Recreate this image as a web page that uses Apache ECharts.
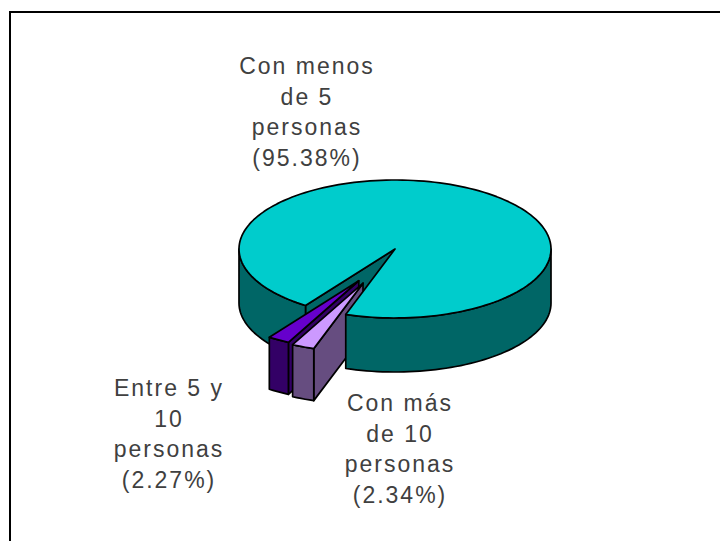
<!DOCTYPE html>
<html><head><meta charset="utf-8">
<style>html,body{margin:0;padding:0;background:#fff}#c{width:720px;height:541px}svg text{letter-spacing:2px}</style>
<script src="https://cdn.jsdelivr.net/npm/echarts@6/dist/echarts.min.js"></script>
</head><body><div id="c"></div>
<script>
const categories = ['Con menos de 5 personas', 'Con más de 10 personas', 'Entre 5 y 10 personas'];
const shares = [95.38, 2.34, 2.27];
const labelLines = [['Con menos', 'de 5', 'personas'], ['Con más', 'de 10', 'personas'], ['Entre 5 y', '10', 'personas']];
const topColors = ['#00CCCC', '#CC99FF', '#6600CC'];
const sideColors = ['#006666', '#664D80', '#330066'];
const explodeOffsets = [[0, 0], [-0.205, 0.495], [-0.232, 0.46]];
const layerOrder = [1, 3, 2];
const sliceDepths = [54, 52, 52];
const labelPos = [[307, 66], [400, 403], [169, 388]];

const cx = 395, cy = 249, rx = 156, ry = 69, startDeg = 215;
const LH = 30.7;
const line = { stroke: '#000', lineWidth: 1.7, lineJoin: 'round' };
const total = shares.reduce((a, b) => a + b, 0);

function pt(ox, oy, deg) {
  const t = deg * Math.PI / 180;
  return [ox + rx * Math.sin(t), oy - ry * Math.cos(t)];
}
function arc(ox, oy, a, b) {
  const n = Math.max(2, Math.ceil(Math.abs(b - a) / 2)), out = [];
  for (let i = 0; i <= n; i++) out.push(pt(ox, oy, a + (b - a) * i / n));
  return out;
}
function poly(points, fill, z2) {
  return { type: 'polygon', z2, shape: { points }, style: Object.assign({ fill }, line) };
}
function renderItem(params, api) {
  const i = params.dataIndex, v = api.value(0);
  let before = 0;
  for (let k = 0; k < i; k++) before += shares[k];
  const a0 = startDeg + before / total * 360, a1 = a0 + v / total * 360;
  const ox = cx + explodeOffsets[i][0] * rx, oy = cy + explodeOffsets[i][1] * ry;
  const depth = sliceDepths[i];
  const z = layerOrder[i] * 10, side = sideColors[i], kids = [];
  const apex = [ox, oy];
  const wall = (deg, zz) => {
    const p = pt(ox, oy, deg);
    kids.push(poly([apex, p, [p[0], p[1] + depth], [ox, oy + depth]], side, zz));
  };
  // rim faces: only the lower half of the ellipse (90..270 degrees, modulo a full turn) faces the viewer
  const front = (a, b, zz) => {
    for (const s of [0, 360]) {
      const lo = Math.max(a, 90 + s), hi = Math.min(b, 270 + s);
      if (hi > lo) {
        const z2 = (i === 0 && s === 360) ? 50 : zz; // the big slice's right-hand rim sits over the exploded slices
        kids.push(poly(arc(ox, oy, lo, hi).concat(arc(ox, oy + depth, hi, lo)), side, z2));
      }
    }
  };
  wall(a0, z);
  front(a0, a1, z + 1);
  kids.push(poly([apex].concat(arc(ox, oy, a0, a1)), topColors[i], i === 0 ? 51 : z + 2));
  const lines = labelLines[i].concat(['(' + v.toFixed(2) + '%)']);
  lines.forEach((t, n) => kids.push({
    type: 'text', z2: 100,
    style: { x: labelPos[i][0], y: labelPos[i][1] + n * LH, text: t, align: 'center', verticalAlign: 'middle',
      font: '23px "Liberation Sans", Arial, sans-serif', fill: '#404040' }
  }));
  return { type: 'group', children: kids };
}
const chart = echarts.init(document.getElementById('c'), null, { renderer: 'svg', width: 720, height: 541 });
chart.setOption({
  animation: false,
  backgroundColor: '#ffffff',
  graphic: [
    { type: 'polyline', shape: { points: [[10, 541], [10, 12], [720, 12]] }, style: { stroke: '#000', lineWidth: 2, fill: 'none' } }
  ],
  series: [{
    type: 'custom', coordinateSystem: 'none', renderItem,
    data: categories.map((name, i) => ({ name, value: [shares[i]] }))
  }]
});
</script></body></html>
